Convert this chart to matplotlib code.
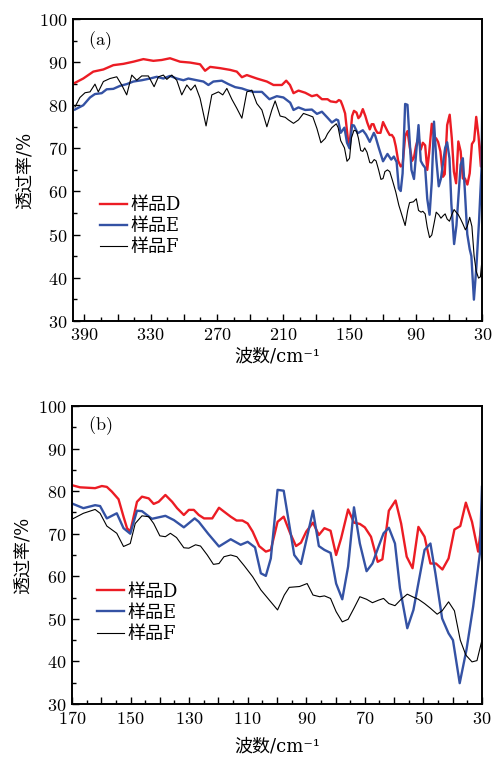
import matplotlib
matplotlib.use("Agg")
import matplotlib.pyplot as plt
from matplotlib.ticker import MultipleLocator, FuncFormatter

plt.rcParams['font.family'] = ['DejaVu Serif', 'Noto Sans CJK SC']
plt.rcParams['mathtext.fontset'] = 'cm'

# 样品D (红)
wn_D = [398.5, 391, 381.9, 372.8, 363.8, 354.7, 345.7, 336.6, 327.6, 320, 312.5, 303.4,
        294.4, 285.3, 280.8, 276.2, 267.2, 258.1, 252.1, 247.5, 243, 234, 224.9, 218.9,
        211.3, 207.4, 204, 200.8, 196.3, 190.2, 184.2, 179.6, 175.1,
        170, 167.3, 162.1, 159.8, 158.1, 156.4, 154.1, 152.4, 151.2, 150.1, 147.8, 146.1,
        143.8, 142.1, 140.4, 138.1, 135.8, 134.1, 131.8, 130.1, 128.4, 126.7, 124.9, 122.1,
        119.8, 118.1, 115.8, 113.8, 111.8, 110.0, 108.3, 106.1, 103.8, 102.1, 99.8, 97.7,
        95.6, 93.5, 91.8, 90.0, 87.7, 85.7, 83.8, 81.7, 79.8, 78.1, 75.7, 73.7, 71.7, 70.0,
        67.9, 65.6, 64.0, 61.8, 59.5, 57.6, 55.7, 53.7, 51.7, 49.6, 47.6, 45.7, 43.5, 41.4,
        39.4, 37.4, 35.5, 33.4, 31.3, 30.0]
t_D = [85.2, 86.2, 87.8, 88.3, 89.3, 89.6, 90.1, 90.7, 90.3, 90.5, 90.9, 90.1,
       89.9, 89.5, 88.0, 88.9, 88.6, 88.2, 87.8, 86.5, 87.0, 86.2, 85.5, 84.7,
       84.7, 85.7, 84.7, 82.8, 83.4, 82.9, 82.1, 82.4, 81.4,
       81.4, 80.9, 80.7, 81.2, 81.0, 79.9, 78.1, 74.0, 71.3, 70.5, 77.5, 78.7,
       78.3, 77.0, 77.5, 79.1, 77.5, 76.0, 74.4, 75.6, 75.6, 74.4, 73.6, 73.6,
       76.1, 75.2, 74.0, 73.1, 73.1, 72.4, 70.5, 67.1, 65.8, 66.2, 72.8, 74.0,
       70.3, 67.1, 67.9, 70.5, 72.6, 69.7, 71.3, 70.7, 65.0, 68.9, 75.7, 72.6, 72.3, 71.5,
       69.3, 63.4, 64.0, 75.4, 77.8, 72.4, 64.6, 61.9, 71.6, 69.3, 63.0, 63.0, 61.6, 64.2,
       71.0, 71.8, 77.3, 72.8, 65.8, 73.2]

# 样品E (蓝)
wn_E = [398.5, 391, 384.9, 380.4, 374.3, 369.8, 363.8, 357.7, 351.7, 345.7, 338.1, 330.6,
        324.5, 318.5, 312.5, 306.4, 300.4, 295.9, 288.3, 282.3, 277.8, 273.3, 265.7, 259.7,
        253.6, 247.5, 243, 237, 229.4, 222.6, 215.9, 209.9, 203.8, 200.8, 196.3, 190.2,
        184.2, 179.6, 175.1,
        170, 166.1, 162.1, 160.4, 158.1, 154.7, 152.4, 150.1, 147.8, 146.1, 142.7, 138.1,
        135.2, 131.8, 128.1, 126.7, 123.5, 119.8, 115.8, 112.4, 110.0, 107.5, 105.5, 103.8,
        102.1, 99.8, 97.7, 94.1, 91.8, 87.7, 85.7, 83.8, 81.7, 79.8, 77.7, 75.7, 73.7,
        71.7, 69.4, 67.4, 65.3, 63.6, 61.8, 59.7, 58.0, 55.5, 53.4, 49.6, 47.6, 45.9,
        43.6, 41.4, 39.9, 37.6, 35.3, 33.0, 30.7, 30.0]
t_E = [79.0, 80.0, 81.8, 82.6, 82.8, 83.7, 83.8, 84.5, 84.9, 85.5, 85.8, 86.2,
       86.6, 86.2, 86.8, 86.2, 85.8, 86.2, 85.8, 85.5, 84.7, 85.5, 85.7, 84.9,
       84.2, 83.9, 83.5, 83.1, 83.1, 81.4, 82.1, 81.8, 80.6, 78.9, 79.5, 78.9,
       79.0, 78.0, 78.5,
       77.1, 76.0, 76.7, 76.5, 73.6, 74.8, 71.3, 70.0, 75.4, 75.3, 73.5, 74.2,
       73.2, 71.5, 73.6, 72.8, 70.0, 67.0, 68.7, 67.4, 68.1, 66.8, 60.7, 60.1,
       64.2, 80.3, 80.1, 65.0, 62.9, 75.4, 67.1, 66.2, 65.5, 58.3, 54.6, 62.3, 76.2,
       67.7, 61.2, 63.0, 67.0, 70.1, 71.4, 67.7, 57.2, 47.8, 52.1, 66.2, 67.7, 60.7,
       50.1, 46.6, 45.0, 34.9, 42.7, 52.9, 65.4, 81.0]

# 样品F (黑)
wn_F = [398.5, 394, 389.4, 384.9, 380.4, 377.4, 372.8, 366.8, 360.7, 356.2, 351.7, 347.1,
        342.6, 338.1, 332.1, 326.9, 323, 318.5, 315.4, 310.9, 306.4, 301.9, 297.3, 293.7,
        289.8, 285.3, 279.9, 274.7, 268.7, 264.8, 261.1, 256.6, 252.1, 247.5, 243, 238.5,
        234, 229.4, 224.9, 220.4, 217.4, 212.9, 208.3, 205.4, 200.8, 196.3, 191.8, 187.3,
        183.3, 179.6, 176.0, 172.1,
        170, 166.1, 162.1, 160.4, 158.1, 154.7, 152.4, 150.1, 148.4, 146.1, 143.8, 142.1,
        140.0, 138.1, 136.4, 134.3, 131.8, 130.1, 127.8, 126.1, 123.8, 121.7, 119.8, 118.1,
        115.8, 113.7, 111.2, 108.3, 105.5, 102.6, 99.8, 97.5, 95.8, 92.3, 89.7, 87.7, 85.4,
        83.8, 81.7, 79.8, 77.7, 75.7, 73.7, 71.7, 69.4, 67.4, 65.3, 63.6, 61.8, 59.7, 57.6,
        55.5, 53.4, 51.7, 49.6, 47.6, 45.3, 43.6, 41.4, 39.4, 37.4, 35.5, 33.4, 31.7, 30.0]
t_F = [79.6, 81.8, 82.9, 83.1, 84.9, 83.1, 85.5, 86.2, 86.6, 84.7, 82.4, 87.0,
       85.8, 86.8, 86.8, 84.3, 86.6, 87.0, 86.0, 87.0, 85.8, 82.4, 84.7, 83.5,
       84.7, 81.6, 75.2, 82.4, 83.1, 82.4, 83.9, 81.4, 79.3, 77.0, 83.1, 83.5,
       80.4, 78.9, 75.0, 78.9, 81.0, 77.5, 77.2, 76.6, 75.8, 76.6, 78.1, 77.7,
       77.3, 74.6, 71.3, 72.3,
       73.4, 74.8, 75.7, 74.8, 71.8, 70.1, 67.0, 67.7, 72.4, 74.2, 74.0, 72.4,
       69.5, 69.3, 70.1, 69.1, 66.7, 66.6, 67.4, 67.1, 65.0, 62.8, 63.0, 64.6,
       65.0, 64.6, 62.5, 59.9, 56.8, 54.4, 52.1, 55.6, 57.4, 57.6, 58.3, 55.6, 55.2,
       55.4, 54.8, 51.7, 49.3, 49.9, 52.5, 55.2, 54.6, 53.8, 54.4, 54.8, 53.6, 53.1, 54.6,
       55.8, 55.1, 54.6, 53.6, 52.5, 51.1, 51.9, 54.0, 51.9, 45.0, 41.5, 39.9, 40.2, 45.0]

series = [
    (wn_D, t_D, '样品D', '#ec1c24', 1.7),
    (wn_E, t_E, '样品E', '#3452a4', 1.7),
    (wn_F, t_F, '样品F', 'black', 0.8),
]

fs = 13
fig = plt.figure(figsize=(4.93, 7.58), dpi=100)
ax1 = fig.add_axes([0.1487, 0.5768, 0.8296, 0.3981])
ax2 = fig.add_axes([0.1460, 0.0712, 0.8316, 0.3932])


def num_fmt(step, base):
    def f(v, pos):
        if round(v - base) % step == 0:
            return '$%d$' % round(v)
        return ''
    return FuncFormatter(f)


def style(ax, xlim, major, minor, step, label, leg_xy, lab_xy):
    for wn, t, name, c, lw in series:
        ax.plot(wn, t, color=c, lw=lw, label=name)
    ax.set_xlim(*xlim)
    ax.set_ylim(30, 100)
    ax.xaxis.set_major_locator(MultipleLocator(major))
    ax.xaxis.set_minor_locator(MultipleLocator(minor))
    ax.xaxis.set_major_formatter(num_fmt(step, 30))
    ax.yaxis.set_major_locator(MultipleLocator(10))
    ax.yaxis.set_minor_locator(MultipleLocator(5))
    ax.yaxis.set_major_formatter(num_fmt(10, 30))
    ax.tick_params(which='both', direction='in', top=False, right=False,
                   labelsize=fs, width=1)
    ax.tick_params(which='major', length=5, pad=4)
    ax.tick_params(which='minor', length=3)
    for s in ax.spines.values():
        s.set_linewidth(1.4)
    ax.text(lab_xy[0], lab_xy[1], label, transform=ax.transAxes, fontsize=fs,
            ha='center', va='center')
    ax.set_xlabel('波数/cm⁻¹', fontsize=fs)
    ax.set_ylabel('透过率/%', fontsize=fs)
    ax.yaxis.set_label_coords(-0.095, 0.5)
    ax.legend(loc='upper left', bbox_to_anchor=leg_xy, frameon=False, fontsize=fs,
              handlelength=1.5, handletextpad=0.2, labelspacing=0.17,
              borderpad=0, borderaxespad=0)


style(ax1, (400, 30), 30, 15, 60, '$(\\mathrm{a})$', (0.065, 0.413), (0.064, 0.93))
style(ax2, (170, 30), 10, 5, 20, '$(\\mathrm{b})$', (0.061, 0.407), (0.068, 0.935))
ax1.xaxis.set_label_coords(0.5, -0.088)
ax2.xaxis.set_label_coords(0.5, -0.112)

fig.savefig('out.png', dpi=100)
